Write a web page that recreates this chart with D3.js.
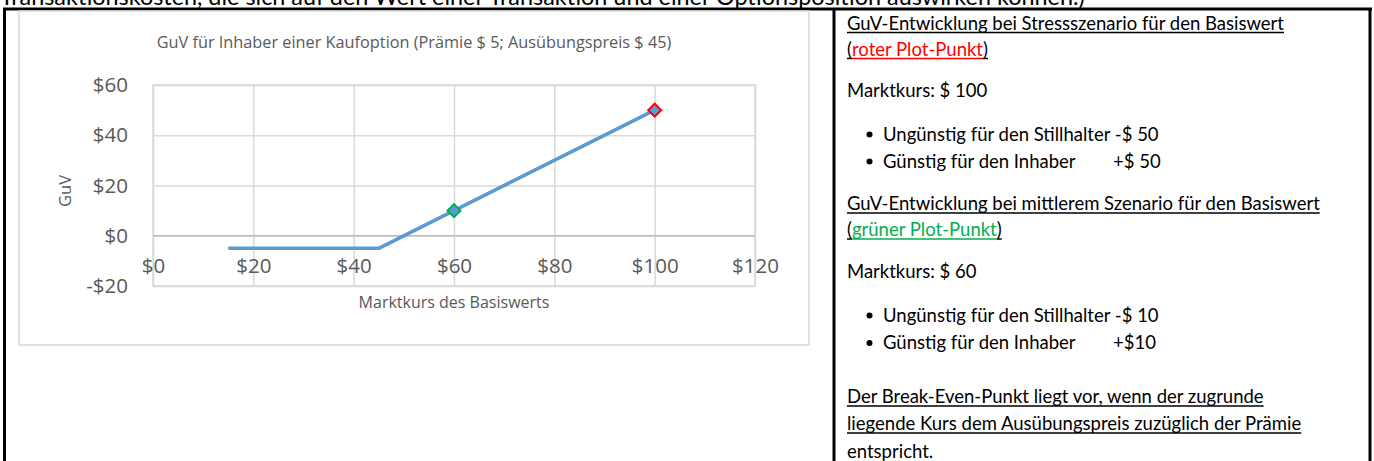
<!DOCTYPE html>
<html>
<head>
<meta charset="utf-8">
<script src="https://cdn.jsdelivr.net/npm/d3@7"></script>
<style>
  html, body { margin: 0; padding: 0; background: #fff; overflow: hidden; }
  svg { display: block; }
</style>
</head>
<body>
<div id="page"></div>
<script>
// ---- chart data ----
const marketPrices = [15, 45, 60, 100];
const profitLoss = [-5, -5, 10, 50];
const markerPrices = [60, 100];
const markerValues = [10, 50];
const markerScenarios = ['mittel', 'stress'];
const xTickValues = [0, 20, 40, 60, 80, 100, 120];
const yTickValues = [-20, 0, 20, 40, 60];

const chartTitle = 'GuV für Inhaber einer Kaufoption (Prämie $ 5; Ausübungspreis $ 45)';
const xAxisTitle = 'Marktkurs des Basiswerts';
const yAxisTitle = 'GuV';
const headerText = 'Transaktionskosten, die sich auf den Wert einer Transaktion und einer Optionsposition auswirken können.)';

// ---- text panel (each part: [text, colour key]) ----
const panelLines = [
    { kind: 'heading', parts: [['GuV-Entwicklung bei Stressszenario für den Basiswert', 'text']] },
    { kind: 'heading', parts: [['(', 'text'], ['roter Plot-Punkt', 'stress'], [')', 'text']] },
    { kind: 'plain', parts: [['Marktkurs: $ 100', 'text']] },
    { kind: 'bullet', parts: [['Ungünstig für den Stillhalter -$ 50', 'text']] },
    { kind: 'bullet', parts: [['Günstig für den Inhaber', 'text']], tab: '+$ 50' },
    { kind: 'heading', parts: [['GuV-Entwicklung bei mittlerem Szenario für den Basiswert', 'text']] },
    { kind: 'heading', parts: [['(', 'text'], ['grüner Plot-Punkt', 'mittel'], [')', 'text']] },
    { kind: 'plain', parts: [['Marktkurs: $ 60', 'text']] },
    { kind: 'bullet', parts: [['Ungünstig für den Stillhalter -$ 10', 'text']] },
    { kind: 'bullet', parts: [['Günstig für den Inhaber', 'text']], tab: '+$10' },
    { kind: 'heading', parts: [['Der Break-Even-Punkt liegt vor, wenn der zugrunde', 'text']] },
    { kind: 'heading', parts: [['liegende Kurs dem Ausübungspreis zuzüglich der Prämie', 'text']] },
    { kind: 'plain', parts: [['entspricht.', 'text']] }
];

// ---- styles / layout ----
const colors = { text: '#000000', stress: '#FF0000', mittel: '#00B050' };
const lineColor = '#5B9BD5';
const gridColor = '#D9D9D9';
const labelColor = '#595959';
const panelBaselines = [29.5, 55.5, 97, 140.5, 167.5, 210, 236, 277.5, 321.5, 349, 403, 430, 458];

const fmtDollar = (v) => (v < 0 ? '-' : '') + '$' + Math.abs(v);

const svg = d3.select('#page')
    .append('svg')
    .attr('width', 1374)
    .attr('height', 461);

svg.append('rect').attr('width', 1374).attr('height', 461).attr('fill', '#fff');

// header line, cut off at the top (as in the source page)
svg.append('text')
    .attr('x', 0)
    .attr('y', 4.5)
    .attr('font-family', 'Lato, sans-serif')
    .attr('font-size', 23.4)
    .attr('fill', '#000')
    .text(headerText);

// table frame
const frame = svg.append('g').attr('stroke', '#000').attr('stroke-width', 3);
frame.append('line').attr('x1', 3).attr('x2', 1372).attr('y1', 9).attr('y2', 9);
frame.append('line').attr('x1', 4.5).attr('x2', 4.5).attr('y1', 8).attr('y2', 461);
frame.append('line').attr('x1', 834).attr('x2', 834).attr('y1', 8).attr('y2', 461);
frame.append('line').attr('x1', 1370).attr('x2', 1370).attr('y1', 8).attr('y2', 461);

// ---- chart ----
const chart = svg.append('g').attr('font-family', '"Open Sans", sans-serif');

chart.append('rect')
    .attr('x', 19).attr('y', 11)
    .attr('width', 790).attr('height', 334)
    .attr('fill', '#fff')
    .attr('stroke', gridColor)
    .attr('stroke-width', 1.5);

const x = d3.scaleLinear().domain([0, 120]).range([153, 755]);
const y = d3.scaleLinear().domain([-20, 60]).range([286, 85]);

// gridlines
chart.append('g')
    .attr('transform', `translate(0,${y(-20)})`)
    .call(d3.axisBottom(x).tickValues(xTickValues).tickSize(-(y(-20) - y(60))).tickFormat(''))
    .call(g => g.select('.domain').remove())
    .call(g => g.selectAll('line').attr('stroke', gridColor).attr('stroke-width', 1.5));

chart.append('g')
    .attr('transform', `translate(${x(0)},0)`)
    .call(d3.axisLeft(y).tickValues(yTickValues).tickSize(-(x(120) - x(0))).tickFormat(''))
    .call(g => g.select('.domain').remove())
    .call(g => g.selectAll('line').attr('stroke', gridColor).attr('stroke-width', 1.5));

// plot border and zero line
chart.append('rect')
    .attr('x', x(0)).attr('y', y(60))
    .attr('width', x(120) - x(0)).attr('height', y(-20) - y(60))
    .attr('fill', 'none')
    .attr('stroke', gridColor)
    .attr('stroke-width', 1.5);
chart.append('line')
    .attr('x1', x(0)).attr('x2', x(120))
    .attr('y1', y(0)).attr('y2', y(0))
    .attr('stroke', '#BFBFBF')
    .attr('stroke-width', 1.5);

// y tick labels
chart.append('g')
    .attr('transform', `translate(${x(0)},0)`)
    .call(d3.axisLeft(y).tickValues(yTickValues).tickSize(0).tickPadding(25).tickFormat(fmtDollar))
    .call(g => g.select('.domain').remove())
    .call(g => g.selectAll('text')
        .attr('font-family', '"Open Sans", sans-serif')
        .attr('font-size', 20.5)
        .attr('fill', labelColor));

// x tick labels sit under the zero line
chart.append('g')
    .attr('transform', `translate(0,${y(0)})`)
    .call(d3.axisBottom(x).tickValues(xTickValues).tickSize(0).tickFormat(fmtDollar))
    .call(g => g.select('.domain').remove())
    .call(g => g.selectAll('text')
        .attr('y', 37.5)
        .attr('dy', 0)
        .attr('font-family', '"Open Sans", sans-serif')
        .attr('font-size', 20.5)
        .attr('fill', labelColor));

// titles
chart.append('text')
    .attr('x', 414).attr('y', 48)
    .attr('text-anchor', 'middle')
    .attr('font-size', 16.3)
    .attr('fill', labelColor)
    .text(chartTitle);

chart.append('text')
    .attr('x', 454).attr('y', 308)
    .attr('text-anchor', 'middle')
    .attr('font-size', 16)
    .attr('fill', labelColor)
    .text(xAxisTitle);

chart.append('text')
    .attr('transform', 'translate(71,191) rotate(-90)')
    .attr('text-anchor', 'middle')
    .attr('font-size', 16.5)
    .attr('fill', labelColor)
    .text(yAxisTitle);

// series
const points = marketPrices.map((p, i) => [p, profitLoss[i]]);
chart.append('path')
    .datum(points)
    .attr('fill', 'none')
    .attr('stroke', lineColor)
    .attr('stroke-width', 3.5)
    .attr('stroke-linejoin', 'round')
    .attr('d', d3.line().x(d => x(d[0])).y(d => y(d[1])));

chart.selectAll('.marker')
    .data(markerPrices.map((p, i) => ({ p, v: markerValues[i], s: markerScenarios[i] })))
    .join('path')
    .attr('class', 'marker')
    .attr('transform', d => `translate(${x(d.p)},${y(d.v)}) rotate(45)`)
    .attr('d', 'M-4.6,-4.6H4.6V4.6H-4.6Z')
    .attr('fill', lineColor)
    .attr('stroke', d => colors[d.s])
    .attr('stroke-width', 2);

// ---- text panel ----
const panel = svg.append('g')
    .attr('font-family', 'Lato, sans-serif')
    .attr('font-size', 18.5);

panelLines.forEach((line, i) => {
    const base = panelBaselines[i];
    const isBullet = line.kind === 'bullet';
    let xPos = isBullet ? 883 : 847;

    if (isBullet) {
        panel.append('circle')
            .attr('cx', 869.5).attr('cy', base - 6)
            .attr('r', 3)
            .attr('fill', '#000');
    }

    line.parts.forEach(([txt, key]) => {
        const t = panel.append('text')
            .attr('x', xPos).attr('y', base)
            .attr('fill', colors[key])
            .text(txt);
        const len = t.node().getComputedTextLength();
        if (line.kind === 'heading') {
            panel.append('line')
                .attr('x1', xPos).attr('x2', xPos + len)
                .attr('y1', base + 3).attr('y2', base + 3)
                .attr('stroke', colors[key])
                .attr('stroke-width', 1.5);
        }
        xPos += len;
    });

    if (line.tab) {
        panel.append('text')
            .attr('x', 1113).attr('y', base)
            .attr('fill', '#000')
            .text(line.tab);
    }
});
</script>
</body>
</html>
